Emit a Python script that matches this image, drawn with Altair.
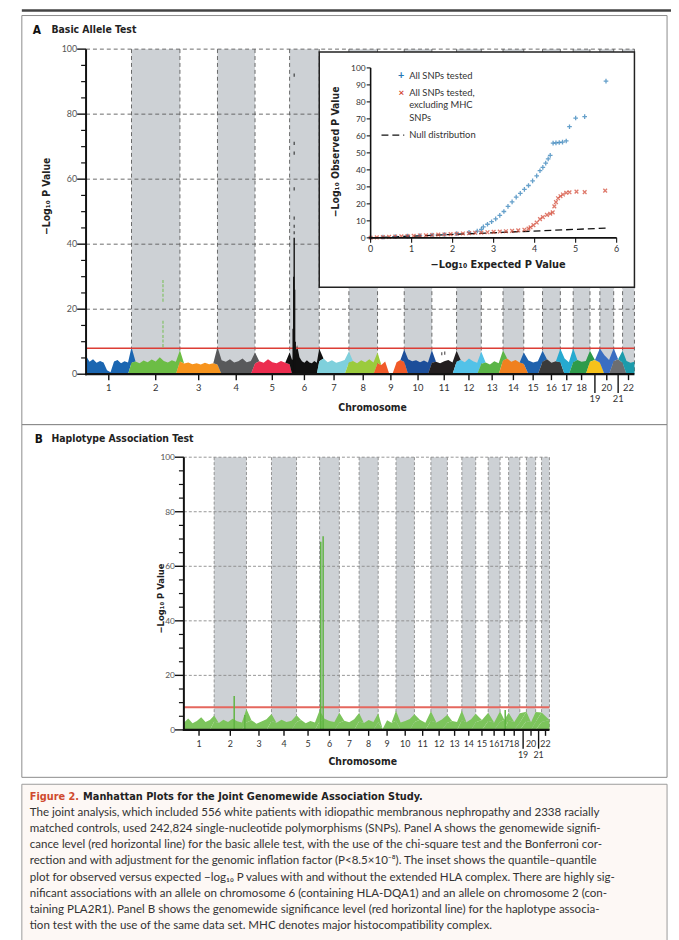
import altair as alt
import pandas as pd

# ------------------------------------------------------------------ data
CHROMS = [str(i) for i in range(1, 23)]
# relative widths of the chromosomes on the genome axis
CHROM_SPAN = [46, 49, 38, 38, 35, 30, 30, 29, 27, 28, 25, 25, 22, 21, 19, 18, 13, 17, 10, 14, 9, 12]
CHROM_COLORS = ["#1b66b1", "#6cbd45", "#f7941d", "#58595b", "#ec2d4f", "#111111",
                "#7fd0dc", "#9bcb3c", "#f15a29", "#1c4e9a", "#231f20", "#52c2e8",
                "#5bb547", "#f0801f", "#1f62ad", "#3a3a3a", "#26aad0", "#2e9b4b",
                "#f6c21a", "#3a6ec2", "#6d6e71", "#1c9bab"]
LOW_LABELS = ["19", "21"]

Y_MAJOR = [0, 20, 40, 60, 80, 100]
Y_MINOR = [5, 10, 15, 25, 30, 35, 45, 50, 55, 65, 70, 75, 85, 90, 95]
GRID_Y = [20, 40, 60, 80, 100]
SIG_A = 8.0
SIG_B = 8.3

# Panel A: top of the SNP cloud along each chromosome (-log10 P)
A1 = [5.6, 3.8, 4.6, 3.5, 4.1, 3.6, 1.2, 0.6, 3.9, 4.4, 3.4, 4.0, 3.6, 4.8]
A2 = [3.5, 3.9, 3.4, 4.2, 3.7, 4.5, 3.9, 5.2, 4.1, 3.6, 4.3, 3.8, 3.5]
A3 = [3.9, 3.3, 3.6, 3.1, 3.4, 3.0, 3.5, 3.1, 3.4, 3.0]
A4 = [5.4, 4.3, 3.8, 4.6, 3.6, 4.0, 4.8, 3.7, 4.1, 3.4]
A5 = [3.3, 4.0, 3.5, 4.6, 3.7, 3.4, 4.1, 3.5, 3.1]
A6 = [3.6, 4.4, 5.0, 9.0, 5.2, 4.0, 3.5, 4.3, 3.6, 3.4, 4.1, 3.5, 3.8]
A7 = [4.0, 4.8, 3.7, 4.3, 3.5, 3.9, 4.4, 3.4]
A8 = [3.6, 4.1, 3.4, 4.3, 3.7, 4.6, 3.6, 3.3]
A9 = [3.4, 2.8, 3.9, 0.4, 0.4, 3.7, 4.4, 3.8]
A10 = [3.8, 4.6, 4.0, 4.3, 3.7, 4.2, 3.6, 3.9]
A11 = [3.5, 3.8, 3.4, 4.0, 4.4, 3.6, 3.4]
A12 = [3.8, 4.4, 3.7, 4.8, 4.0, 3.5, 3.7]
A13 = [3.2, 3.6, 3.0, 4.0, 3.4, 3.2]
A14 = [4.2, 4.8, 3.8, 4.4, 3.6, 3.2]
A15 = [3.5, 4.2, 3.6, 4.0, 3.4]
A16 = [3.8, 4.6, 3.5, 4.0, 3.7]
A17 = [4.1, 4.8, 3.7, 4.3]
A18 = [3.7, 4.4, 3.8, 4.1, 3.4]
A19 = [3.8, 4.4, 3.6]
A20 = [4.3, 5.8, 4.4, 4.0]
A21 = [4.0, 4.6, 3.5]
A22 = [3.7, 4.1, 3.5, 3.8]
A_NOISE = [A1, A2, A3, A4, A5, A6, A7, A8, A9, A10, A11, A12, A13, A14, A15, A16,
           A17, A18, A19, A20, A21, A22]

# Panel A: dense peak (chr 6) and isolated significant SNPs
A_SPIKE_CHROM = ["6", "6", "6", "6", "6"]
A_SPIKE_FRAC = [0.12, 0.14, 0.155, 0.17, 0.19]
A_SPIKE_VAL = [14, 30, 42, 26, 10]
A_PT_CHROM = ["6"] * 7 + ["2"] * 11 + ["11", "11"]
A_PT_FRAC = [0.155] * 7 + [0.65] * 11 + [0.40, 0.52]
A_PT_VAL = [92, 71, 68, 57, 48, 45.5, 43.5,
            28.5, 27.2, 25.8, 24.3, 22.8, 16.0, 14.6, 13.2, 11.6, 10.2, 8.8,
            6.3, 6.5]

# Panel B: haplotype test
B1 = [2.6, 4.2, 2.4, 3.3, 4.6, 2.9, 3.6, 2.2]
B2 = [3.1, 2.5, 3.7, 2.9, 4.1, 3.2, 2.7, 5.0]
B3 = [2.7, 3.5, 2.3, 3.1, 3.9, 2.5]
B4 = [3.3, 2.6, 3.7, 2.9, 3.4, 2.5]
B5 = [2.9, 3.6, 2.4, 3.3, 2.7, 4.0]
B6 = [3.1, 4.1, 3.3, 2.9, 3.7]
B7 = [2.6, 3.4, 2.8, 3.9, 3.0]
B8 = [3.2, 2.5, 3.6, 2.9, 3.3]
B9 = [2.8, 0.3, 3.5, 2.6, 3.4]
B10 = [3.6, 2.7, 3.3, 4.0, 2.8]
B11 = [2.9, 3.7, 2.6, 3.4]
B12 = [3.4, 2.7, 3.8, 3.0]
B13 = [2.6, 3.3, 2.9, 3.6]
B14 = [3.5, 2.8, 3.9, 3.1]
B15 = [2.8, 3.6, 3.0]
B16 = [3.3, 2.7, 3.8]
B17 = [3.0, 3.7, 2.8]
B18 = [3.5, 2.9, 3.4]
B19 = [2.7, 3.4]
B20 = [3.3, 2.8, 3.6]
B21 = [3.0, 3.5]
B22 = [2.9, 3.6]
B_NOISE = [B1, B2, B3, B4, B5, B6, B7, B8, B9, B10, B11, B12, B13, B14, B15, B16,
           B17, B18, B19, B20, B21, B22]
B_SPIKE_CHROM = ["2", "2", "6", "6", "17"]
B_SPIKE_FRAC = [0.62, 0.95, 0.06, 0.18, 0.60]
B_SPIKE_VAL = [12.4, 5.5, 69, 71, 7.3]

# Inset: quantile-quantile plot
QQ_ALL_X = [0.0, 0.3, 0.6, 0.9, 1.2, 1.5, 1.8, 2.1, 2.4, 2.6, 2.7, 2.75, 2.85, 2.95,
            3.05, 3.15, 3.25, 3.35, 3.45, 3.55, 3.65, 3.75, 3.85, 3.95, 4.05, 4.13,
            4.2, 4.27, 4.33, 4.38, 4.45, 4.52, 4.6, 4.68, 4.77, 4.85, 5.0, 5.22, 5.74]
QQ_ALL_Y = [0.1, 0.4, 0.7, 1.0, 1.3, 1.7, 2.0, 2.5, 3.2, 4.0, 5.0, 6.5, 8.0, 9.5,
            11.2, 13.2, 15.5, 18.5, 21.2, 24.0, 26.2, 28.5, 30.8, 33.5, 36.5, 39.5,
            41.5, 44.0, 46.5, 48.5, 55.7, 55.9, 56.1, 56.3, 57.0, 65.4, 70.5, 71.3, 92.2]
QQ_NOMHC_X = [0.0, 0.15, 0.3, 0.45, 0.6, 0.75, 0.9, 1.05, 1.2, 1.35, 1.5, 1.65, 1.8,
              1.95, 2.1, 2.25, 2.4, 2.55, 2.7, 2.85, 3.0, 3.15, 3.3, 3.45, 3.6, 3.75,
              3.85, 3.9, 3.97, 4.05, 4.13, 4.2, 4.3, 4.38, 4.44, 4.48, 4.52, 4.57,
              4.63, 4.69, 4.77, 4.85, 5.02, 5.22, 5.72]
QQ_NOMHC_Y = [0.1, 0.3, 0.4, 0.6, 0.7, 0.9, 1.0, 1.2, 1.4, 1.5, 1.7, 1.9, 2.0, 2.2,
              2.4, 2.6, 2.8, 3.0, 3.1, 3.3, 3.5, 3.7, 3.9, 4.1, 4.4, 4.8, 5.4, 6.2,
              7.5, 9.0, 11.0, 12.2, 13.5, 14.2, 15.0, 18.5, 21.0, 23.3, 24.5, 25.5,
              26.5, 26.8, 27.2, 26.9, 27.8]
NULL_X = [0.0, 5.74]
NULL_Y = [0.0, 5.74]
QQ_X_TICKS = [0, 1, 2, 3, 4, 5, 6]
QQ_Y_TICKS = [0, 10, 20, 30, 40, 50, 60, 70, 80, 90, 100]

CAPTION_TITLE = "Figure 2."
CAPTION_HEAD = "Manhattan Plots for the Joint Genomewide Association Study."
CAPTION_LINES = [
    "The joint analysis, which included 556 white patients with idiopathic membranous nephropathy and 2338 racially",
    "matched controls, used 242,824 single-nucleotide polymorphisms (SNPs). Panel A shows the genomewide signifi-",
    "cance level (red horizontal line) for the basic allele test, with the use of the chi-square test and the Bonferroni cor-",
    "rection and with adjustment for the genomic inflation factor (P<8.5\u00d710\u207b\u2078). The inset shows the quantile\u2013quantile",
    "plot for observed versus expected \u2212log\u2081\u2080 P values with and without the extended HLA complex. There are highly sig-",
    "nificant associations with an allele on chromosome 6 (containing HLA-DQA1) and an allele on chromosome 2 (con-",
    "taining PLA2R1). Panel B shows the genomewide significance level (red horizontal line) for the haplotype associa-",
    "tion test with the use of the same data set. MHC denotes major histocompatibility complex.",
]

# ------------------------------------------------------------------ tables
CT = pd.DataFrame({"chrom": CHROMS, "span": CHROM_SPAN, "color": CHROM_COLORS})
CT["end"] = CT["span"].cumsum()
CT["start"] = CT["end"] - CT["span"]
CT["mid"] = (CT["start"] + CT["end"]) / 2
CT["shaded"] = [i % 2 == 1 for i in range(len(CT))]
CT["low"] = CT["chrom"].isin(LOW_LABELS)
TOTAL = float(CT["end"].iloc[-1])
START = dict(zip(CT.chrom, CT.start))
SPAN = dict(zip(CT.chrom, CT.span))
COLOR = dict(zip(CT.chrom, CT.color))


def noise_table(lists, color=None):
    rows = []
    for c, vals in zip(CHROMS, lists):
        n = len(vals)
        for k, v in enumerate(vals):
            rows.append({"chrom": c, "pos": START[c] + SPAN[c] * k / (n - 1), "val": v,
                         "color": color or COLOR[c]})
    return pd.DataFrame(rows)


def located(chroms, fracs, vals, color=None):
    return pd.DataFrame({
        "pos": [START[c] + SPAN[c] * f for c, f in zip(chroms, fracs)],
        "val": vals, "zero": [0] * len(vals),
        "color": [color or COLOR[c] for c in chroms]})


# ------------------------------------------------------------------ layout helpers
OFF = 8


def px(v):
    return v - OFF


FONT = "Lato, Open Sans, sans-serif"
BOLD = "Liberation Sans Narrow, DejaVu Sans Condensed, Roboto, sans-serif"
ONE = pd.DataFrame({"k": [0]})


def sc(domain, rng):
    return alt.Scale(domain=domain, range=[px(r) for r in rng], nice=False, zero=False)


def txt(s, x, y, size=10, weight="normal", color="#222", align="left", angle=0,
        font=FONT, baseline="middle"):
    kw = dict(fontSize=size, fontWeight=weight, color=color, align=align,
              baseline=baseline, font=font)
    if angle:
        kw["angle"] = angle
    return alt.Chart(pd.DataFrame({"t": [s]})).mark_text(**kw).encode(
        x=alt.value(px(x)), y=alt.value(px(y)), text="t:N")


def hline(x1, x2, y, color, width, dash=None):
    kw = dict(color=color, strokeWidth=width)
    if dash:
        kw["strokeDash"] = dash
    return alt.Chart(ONE).mark_rule(**kw).encode(
        x=alt.value(px(x1)), x2=alt.value(px(x2)), y=alt.value(px(y)))


def vline(x, y1, y2, color, width, dash=None):
    kw = dict(color=color, strokeWidth=width)
    if dash:
        kw["strokeDash"] = dash
    return alt.Chart(ONE).mark_rule(**kw).encode(
        x=alt.value(px(x)), y=alt.value(px(y1)), y2=alt.value(px(y2)))


def box(x1, y1, x2, y2, fill, stroke, width):
    kw = dict(fill=fill, stroke=stroke, strokeWidth=width)
    if fill is None:
        kw = dict(filled=False, stroke=stroke, strokeWidth=width, fillOpacity=0)
    return alt.Chart(ONE).mark_rect(**kw).encode(
        x=alt.value(px(x1)), x2=alt.value(px(x2)), y=alt.value(px(y1)), y2=alt.value(px(y2)))


def manhattan(left, right, top, bottom, noise_df, spikes, points, sig, sig_color,
              sig_width, grid_color, grid_dash, label_size, lab_font, spike_width):
    sx = sc([0, TOTAL], [left, right])
    sy = sc([0, 100], [bottom, top])
    L = []
    L.append(alt.Chart(CT[CT.shaded]).mark_rect(color="#cdd1d5").encode(
        x=alt.X("start:Q", scale=sx, axis=None), x2="end:Q",
        y=alt.value(px(top)), y2=alt.value(px(bottom))))
    L.append(alt.Chart(pd.DataFrame({"g": GRID_Y})).mark_rule(
        color=grid_color, strokeWidth=0.9, strokeDash=grid_dash).encode(
        y=alt.Y("g:Q", scale=sy, axis=None), x=alt.value(px(left)), x2=alt.value(px(right))))
    L.append(alt.Chart(CT).mark_rule(color=grid_color, strokeWidth=0.9,
                                     strokeDash=grid_dash).encode(
        x=alt.X("end:Q", scale=sx, axis=None), y=alt.value(px(top)), y2=alt.value(px(bottom))))
    L.append(alt.Chart(noise_df).mark_area(interpolate="linear", strokeWidth=0).encode(
        x=alt.X("pos:Q", scale=sx, axis=None), y=alt.Y("val:Q", scale=sy, axis=None),
        color=alt.Color("color:N", scale=None), detail="chrom:N"))
    L.append(alt.Chart(pd.DataFrame({"v": [sig]})).mark_rule(
        color=sig_color, strokeWidth=sig_width).encode(
        y=alt.Y("v:Q", scale=sy, axis=None), x=alt.value(px(left)), x2=alt.value(px(right))))
    L.append(alt.Chart(spikes).mark_rule(strokeWidth=spike_width).encode(
        x=alt.X("pos:Q", scale=sx, axis=None), y=alt.Y("val:Q", scale=sy, axis=None),
        y2="zero:Q", color=alt.Color("color:N", scale=None)))
    if points is not None:
        L.append(alt.Chart(points).mark_point(shape="M0,-1L0,1", filled=False,
                                              size=10, strokeWidth=1.3).encode(
            x=alt.X("pos:Q", scale=sx, axis=None), y=alt.Y("val:Q", scale=sy, axis=None),
            color=alt.Color("color:N", scale=None)))
    # y axis
    L.append(vline(left, top, bottom + 1, "#111", 2))
    L.append(alt.Chart(pd.DataFrame({"v": Y_MAJOR})).mark_rule(color="#111", strokeWidth=1.4).encode(
        y=alt.Y("v:Q", scale=sy, axis=None), x=alt.value(px(left - 9)), x2=alt.value(px(left))))
    L.append(alt.Chart(pd.DataFrame({"v": Y_MINOR})).mark_rule(color="#111", strokeWidth=1.2).encode(
        y=alt.Y("v:Q", scale=sy, axis=None), x=alt.value(px(left - 5)), x2=alt.value(px(left))))
    L.append(alt.Chart(pd.DataFrame({"v": Y_MAJOR, "t": [str(v) for v in Y_MAJOR]})).mark_text(
        align="right", baseline="middle", fontSize=label_size, color="#555", font=lab_font).encode(
        y=alt.Y("v:Q", scale=sy, axis=None), x=alt.value(px(left - 9)), text="t:N"))
    # x axis
    L.append(hline(left - 1, right, bottom, "#111", 2.2))
    for low, tick_len, lab_dy in [(False, 6, 14), (True, 19, 25)]:
        sub = CT[CT.low == low]
        L.append(alt.Chart(sub).mark_rule(color="#111", strokeWidth=1.4).encode(
            x=alt.X("mid:Q", scale=sx, axis=None), y=alt.value(px(bottom)),
            y2=alt.value(px(bottom + tick_len))))
        L.append(alt.Chart(sub).mark_text(baseline="middle", fontSize=label_size + 0.5,
                                          color="#333", font=lab_font).encode(
            x=alt.X("mid:Q", scale=sx, axis=None), y=alt.value(px(bottom + lab_dy)),
            text="chrom:N"))
    return L


layers = []
# frames
layers.append(hline(22, 679, 5, "#444", 2.5))
layers.append(box(22, 10, 675, 424, None, "#8a8a8a", 1))
layers.append(box(22, 424, 675, 781, None, "#8a8a8a", 1))
layers.append(box(22, 788, 675, 950, "#fdf8f5", "#9a9a9a", 1))

# ---------------- panel A
a_noise = noise_table(A_NOISE)
a_spikes = located(A_SPIKE_CHROM, A_SPIKE_FRAC, A_SPIKE_VAL)
a_points = located(A_PT_CHROM, A_PT_FRAC, A_PT_VAL)
layers += manhattan(87, 642, 44, 373, a_noise, a_spikes, a_points, SIG_A, "#dc3d35", 1.4,
                    "#5a5a5a", [4, 3], 9, FONT, 1.4)
layers.append(txt("A", 33, 25, 12, "bold", "#111", font=BOLD))
layers.append(txt("Basic Allele Test", 52, 25, 10.5, "bold", "#222", font=BOLD))
layers.append(txt("\u2212Log\u2081\u2080 P Value", 48, 193, 10.5, "bold", "#222", angle=270, align="center", font=BOLD))
layers.append(txt("Chromosome", 377, 407, 10.5, "bold", "#222", align="center", font=BOLD))

# ---------------- inset (QQ plot)
IX = sc([0, 6], [375, 624])
IY = sc([0, 100], [235, 63])
layers.append(box(323, 47, 642, 285, "#ffffff", "#222", 1.5))
layers.append(alt.Chart(pd.DataFrame({"x": NULL_X, "y": NULL_Y})).mark_line(
    color="#111", strokeWidth=1.3, strokeDash=[7, 4]).encode(
    x=alt.X("x:Q", scale=IX, axis=None), y=alt.Y("y:Q", scale=IY, axis=None)))
layers.append(alt.Chart(pd.DataFrame({"x": QQ_ALL_X, "y": QQ_ALL_Y})).mark_point(
    shape="M-1,0L1,0M0,-1L0,1", filled=False, size=22, strokeWidth=1.3, color="#2578b5").encode(
    x=alt.X("x:Q", scale=IX, axis=None), y=alt.Y("y:Q", scale=IY, axis=None)))
layers.append(alt.Chart(pd.DataFrame({"x": QQ_NOMHC_X, "y": QQ_NOMHC_Y})).mark_point(
    shape="M-1,-1L1,1M-1,1L1,-1", filled=False, size=14, strokeWidth=1.3, color="#d2432f").encode(
    x=alt.X("x:Q", scale=IX, axis=None), y=alt.Y("y:Q", scale=IY, axis=None)))
layers.append(vline(375, 63, 236, "#111", 1.6))
layers.append(hline(374, 624, 235, "#111", 1.6))
layers.append(alt.Chart(pd.DataFrame({"v": QQ_Y_TICKS})).mark_rule(color="#111", strokeWidth=1.1).encode(
    y=alt.Y("v:Q", scale=IY, axis=None), x=alt.value(px(371)), x2=alt.value(px(375))))
layers.append(alt.Chart(pd.DataFrame({"v": QQ_Y_TICKS, "t": [str(v) for v in QQ_Y_TICKS]})).mark_text(
    align="right", baseline="middle", fontSize=8.5, color="#333", font=FONT).encode(
    y=alt.Y("v:Q", scale=IY, axis=None), x=alt.value(px(370)), text="t:N"))
layers.append(alt.Chart(pd.DataFrame({"v": QQ_X_TICKS})).mark_rule(color="#111", strokeWidth=1.1).encode(
    x=alt.X("v:Q", scale=IX, axis=None), y=alt.value(px(235)), y2=alt.value(px(240))))
layers.append(alt.Chart(pd.DataFrame({"v": QQ_X_TICKS, "t": [str(v) for v in QQ_X_TICKS]})).mark_text(
    align="center", baseline="middle", fontSize=9, color="#333", font=FONT).encode(
    x=alt.X("v:Q", scale=IX, axis=None), y=alt.value(px(246)), text="t:N"))
layers.append(txt("\u2212Log\u2081\u2080 Observed P Value", 340, 148, 10.5, "bold", "#222", angle=270,
                  align="center", font=BOLD))
layers.append(txt("\u2212Log\u2081\u2080 Expected P Value", 504, 263, 11, "bold", "#222",
                  align="center", font=BOLD))
# inset legend
layers.append(txt("+", 406, 71, 11, "bold", "#2578b5", align="center"))
layers.append(txt("All SNPs tested", 414, 71, 9.5, color="#333"))
layers.append(txt("\u00d7", 406, 88, 10, "bold", "#d2432f", align="center"))
layers.append(txt("All SNPs tested,", 414, 88, 9.5, color="#333"))
layers.append(txt("excluding MHC", 414, 101, 9.5, color="#333"))
layers.append(txt("SNPs", 414, 114, 9.5, color="#333"))
layers.append(hline(386, 409, 131, "#111", 1.4, [7, 4]))
layers.append(txt("Null distribution", 414, 131, 9.5, color="#333"))

# ---------------- panel B
b_noise = noise_table(B_NOISE, "#7cc45c")
b_spikes = located(B_SPIKE_CHROM, B_SPIKE_FRAC, B_SPIKE_VAL, "#5fb442")
layers += manhattan(186, 556, 457, 733, b_noise, b_spikes, None, SIG_B, "#e5675e", 2.0,
                    "#8a8a8a", [3, 2], 8.5, FONT, 1.5)
layers.append(txt("B", 35, 439, 12, "bold", "#111", font=BOLD))
layers.append(txt("Haplotype Association Test", 52, 439, 10.5, "bold", "#222", font=BOLD))
layers.append(txt("\u2212Log\u2081\u2080 P Value", 163, 600, 9.5, "bold", "#222", angle=270,
                  align="center", font=BOLD))
layers.append(txt("Chromosome", 367, 766, 10.5, "bold", "#222", align="center", font=BOLD))

# ---------------- caption
layers.append(txt(CAPTION_TITLE, 30, 801, 11, "bold", "#cf4a2e", font=BOLD))
layers.append(txt(CAPTION_HEAD, 84, 801, 11, "bold", "#222", font=BOLD))
for i, line in enumerate(CAPTION_LINES):
    layers.append(txt(line, 30, 816 + 16.4 * i, 11.7, color="#333"))

chart = alt.layer(*layers).resolve_scale(
    x="independent", y="independent", color="independent"
).properties(
    width=671, height=932, padding=0, autosize=alt.AutoSizeParams(type="none"),
    background="#ffffff"
).configure_view(stroke=None)

chart.save("out.html", embed_options={"renderer": "svg", "actions": False})
